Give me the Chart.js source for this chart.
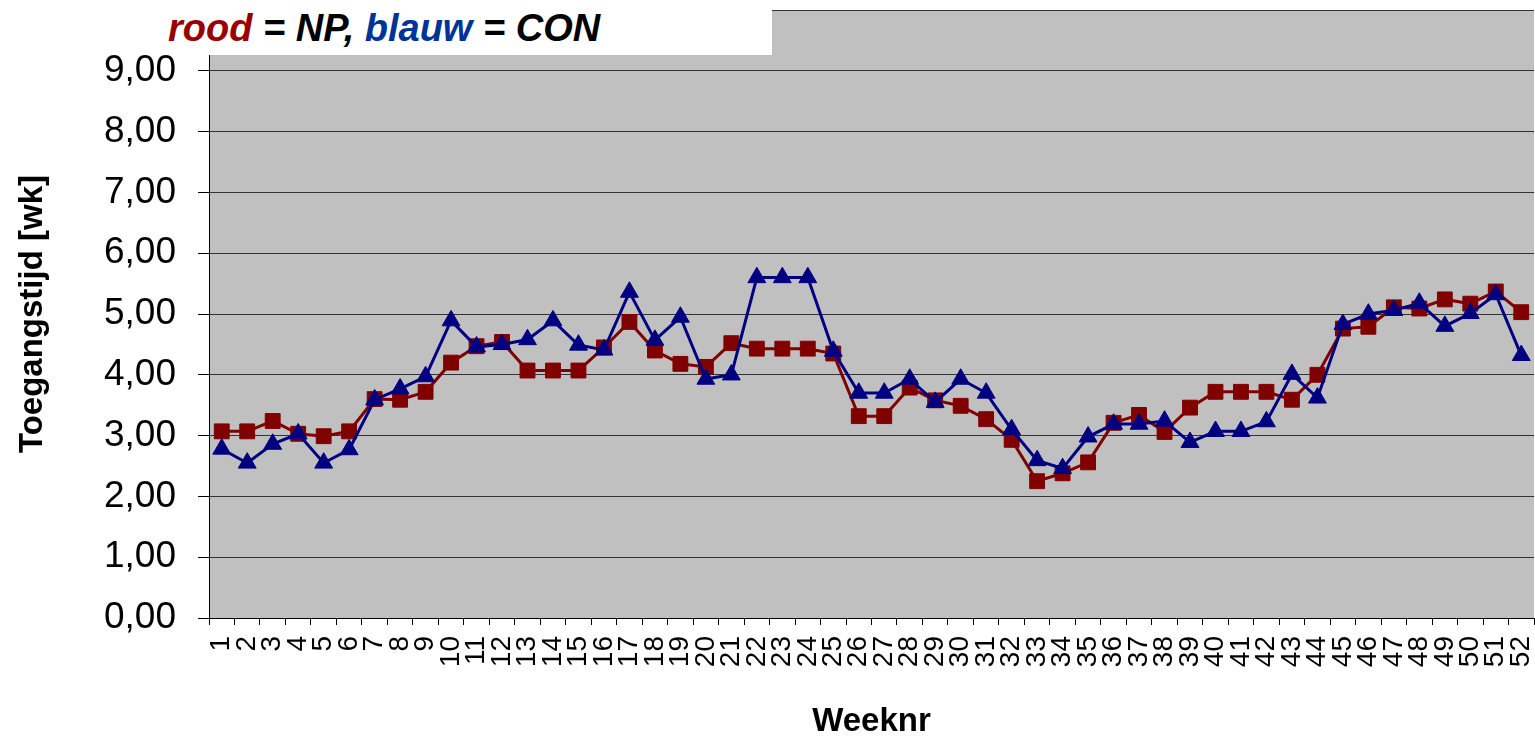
<!DOCTYPE html>
<html>
<head>
<meta charset="utf-8">
<script src="https://cdn.jsdelivr.net/npm/chart.js@4.4.1/dist/chart.umd.min.js"></script>
<style>
  html, body { margin: 0; padding: 0; background: #fff; }
  #wrap { position: relative; width: 1535px; height: 737px; }
  #c { position: absolute; left: 0; top: 0; }
  #title {
    position: absolute; left: 0; top: 0; width: 772px; height: 55px; background: #fff;
    font-family: 'Liberation Sans', Arial, sans-serif; font-weight: bold; font-style: italic;
    font-size: 38px; line-height: 56px; color: #000; box-sizing: border-box; padding-left: 168px;
    white-space: nowrap; letter-spacing: 0px; overflow: visible;
  }
  #title .r { color: #990000; }
  #title .b { color: #003399; }
</style>
</head>
<body>
<div id="wrap">
  <canvas id="c" width="1535" height="737"></canvas>
  <div id="title"><span class="r">rood</span> = NP, <span class="b">blauw</span> = CON</div>
</div>
<script>
const weeks = ['1','2','3','4','5','6','7','8','9','10','11','12','13','14','15','16','17','18','19','20','21','22','23','24','25','26','27','28','29','30','31','32','33','34','35','36','37','38','39','40','41','42','43','44','45','46','47','48','49','50','51','52'];
const npValues = [3.07,3.07,3.24,3.03,2.99,3.07,3.60,3.59,3.72,4.20,
                  4.47,4.54,4.07,4.07,4.07,4.45,4.87,4.40,4.18,4.13,
                  4.52,4.43,4.43,4.43,4.35,3.32,3.32,3.79,3.58,3.49,
                  3.27,2.93,2.25,2.38,2.56,3.21,3.34,3.06,3.46,3.72,
                  3.72,3.72,3.59,4.00,4.76,4.79,5.11,5.09,5.24,5.17,
                  5.37,5.03];
const conValues = [2.78,2.55,2.86,3.03,2.55,2.77,3.59,3.77,3.97,4.89,
                   4.46,4.50,4.58,4.89,4.49,4.41,5.36,4.57,4.95,3.93,
                   4.00,5.60,5.60,5.60,4.39,3.70,3.70,3.93,3.55,3.93,
                   3.70,3.10,2.59,2.46,2.98,3.19,3.19,3.24,2.89,3.07,
                   3.07,3.23,4.01,3.62,4.83,5.00,5.06,5.18,4.80,5.01,
                   5.32,4.32];
const yTickLabels = ['0,00','1,00','2,00','3,00','4,00','5,00','6,00','7,00','8,00','9,00',''];

const FONT = "'Liberation Sans', Arial, sans-serif";

const plotBg = {
  id: 'plotBg',
  beforeDraw(chart) {
    const {ctx, chartArea: a} = chart;
    ctx.save();
    ctx.fillStyle = '#C0C0C0';
    ctx.fillRect(a.left, a.top, a.right - a.left, a.bottom - a.top);
    ctx.restore();
  }
};

new Chart(document.getElementById('c'), {
  type: 'line',
  data: {
    labels: weeks,
    datasets: [
      {
        label: 'NP', data: npValues, order: 1,
        borderColor: '#800000', backgroundColor: '#800000', borderWidth: 3,
        pointStyle: 'rect', pointRadius: 10.5, pointHoverRadius: 10.5,
        pointBackgroundColor: '#800000', pointBorderColor: '#800000', pointBorderWidth: 1,
        tension: 0, fill: false
      },
      {
        label: 'CON', data: conValues, order: 0,
        borderColor: '#000080', backgroundColor: '#000080', borderWidth: 3,
        pointStyle: 'triangle', pointRadius: 10.3, pointHoverRadius: 10.3,
        pointBackgroundColor: '#000080', pointBorderColor: '#000080', pointBorderWidth: 1,
        tension: 0, fill: false
      }
    ]
  },
  options: {
    responsive: false,
    animation: false,
    devicePixelRatio: 1,
    layout: { autoPadding: false, padding: { top: 10, right: 1, left: 0, bottom: 0 } },
    plugins: { legend: { display: false }, tooltip: { enabled: false }, title: { display: false } },
    scales: {
      x: {
        type: 'category',
        offset: true,
        grid: { display: true, drawOnChartArea: false, drawTicks: true, tickLength: 7, tickColor: '#000', offset: true },
        border: { display: true, color: '#000', width: 1 },
        ticks: {
          autoSkip: false, maxRotation: 90, minRotation: 90, padding: 11,
          color: '#000', font: { family: FONT, size: 28 }
        },
        title: {
          display: true, text: 'Weeknr', color: '#000',
          font: { family: FONT, size: 33, weight: 'bold' }, padding: { top: 0, bottom: -5 }
        },
        afterFit(scale) {
          scale.height = 119;
          scale.paddingLeft = 0; scale.paddingRight = 0;
        }
      },
      y: {
        min: 0, max: 10,
        ticks: {
          stepSize: 1, color: '#000', padding: 22,
          font: { family: FONT, size: 37 },
          callback: (v, i) => yTickLabels[i]
        },
        grid: { color: '#333333', lineWidth: 1, drawTicks: true, tickLength: 11, tickColor: '#000' },
        border: { display: true, color: '#000', width: 1 },
        title: {
          display: true, text: 'Toegangstijd [wk]', color: '#000',
          font: { family: FONT, size: 33, weight: 'bold' }, padding: { top: 13, bottom: 13 }
        },
        afterFit(scale) {
          scale.width = 209;
          scale.paddingTop = 0; scale.paddingBottom = 0;
        }
      }
    }
  },
  plugins: [plotBg]
});
</script>
</body>
</html>
